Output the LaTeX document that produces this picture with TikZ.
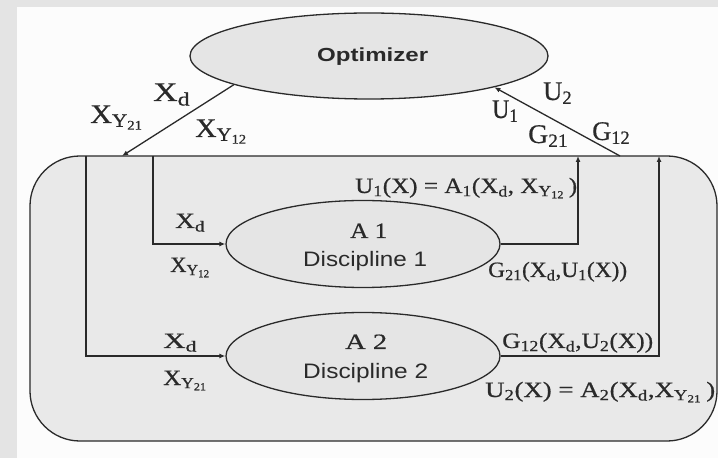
\documentclass[tikz,border=0pt]{standalone}
\usepackage{graphicx}
\usepackage{fontspec}
\setmainfont{Liberation Serif}[FakeBold=0.6]
\setsansfont{Liberation Sans}
\usetikzlibrary{shapes.geometric,arrows.meta}
\definecolor{pagegray}{HTML}{E4E4E4}
\definecolor{paper}{HTML}{FCFCFC}
\definecolor{boxfill}{HTML}{E9E9E9}
\definecolor{ellfill}{HTML}{E5E5E5}
\definecolor{ink}{HTML}{2A2A2A}
\newcommand{\sbx}[1]{\textsubscript{#1}}
\newcommand{\fitw}[2]{\resizebox{#1}{\height}{#2}}
\tikzset{
  lbl/.style={anchor=base west, inner sep=0pt, text=ink, font=\fontsize{22}{25}\selectfont},
  toplbl/.style={lbl, font=\fontsize{27}{30}\selectfont},
  sanslbl/.style={anchor=base west, inner sep=0pt, text=ink, font=\sffamily\fontsize{21}{24}\selectfont},
  conn/.style={draw=ink, line width=1.3bp},
  arr/.style={conn, -{Latex[length=6bp,width=5bp]}},
  disc/.style={ellipse, draw=ink, line width=1.3bp, fill=ellfill, minimum width=274bp, minimum height=87bp, inner sep=0pt},
}
\begin{document}
\begin{tikzpicture}[x=1bp,y=-1bp]
\fill[pagegray] (0,0) rectangle (718,458);
\fill[paper] (17,7) rectangle (718,458);
\useasboundingbox (0,0) rectangle (718,458);
% container
\node[rectangle, rounded corners=50bp, draw=ink, line width=1.3bp, fill=boxfill,
      minimum width=687bp, minimum height=285bp, inner sep=0pt] (box) at (373.5,298.5) {};
% optimizer
\node[ellipse, draw=ink, line width=1.3bp, fill=ellfill, minimum width=358bp, minimum height=86bp, inner sep=0pt] (opt) at (369,56) {};
\node[anchor=base west, inner sep=0pt, text=ink, font=\sffamily\bfseries\fontsize{19}{22}\selectfont] (optt) at (317,62) {\fitw{111bp}{Optimizer}};
% disciplines
\node[disc] (d1) at (363,244) {};
\node[disc] (d2) at (363,356) {};
\node[lbl] (a1) at (350,238) {\fitw{37bp}{A 1}};
\node[sanslbl] (dt1) at (303,267) {\fitw{124bp}{Discipline 1}};
\node[lbl] (a2) at (345,349) {\fitw{42bp}{A 2}};
\node[sanslbl] (dt2) at (303,378) {\fitw{125bp}{Discipline 2}};
% points on the container top
\coordinate (ta) at (122,156);
\coordinate (tb) at (620,156);
\coordinate (t1) at (86,156);
\coordinate (t2) at (153,156);
\coordinate (t3) at (578,156);
\coordinate (t4) at (659,156);
% connectors
\draw[arr] (opt.192.8) -- (ta);
\draw[arr] (tb) -- (opt.346.6);
\draw[arr] (t2) |- (d1.west);
\draw[arr] (t1) |- (d2.west);
\draw[arr] (d1.east) -| (t3);
\draw[arr] (d2.east) -| (t4);
% top labels
\node[toplbl] (l1) at (153,101) {\fitw{37bp}{X\sbx{d}}};
\node[toplbl] (l2) at (90,123) {\fitw{53bp}{X\sbx{Y\sbx{21}}}};
\node[toplbl] (l3) at (195,137) {\fitw{52bp}{X\sbx{Y\sbx{12}}}};
\node[toplbl] (l4) at (543,100) {\fitw{29bp}{U\sbx{2}}};
\node[toplbl] (l5) at (492,118) {\fitw{26bp}{U\sbx{1}}};
\node[toplbl] (l6) at (528,143) {\fitw{40bp}{G\sbx{21}}};
\node[toplbl] (l7) at (592,140) {\fitw{38bp}{G\sbx{12}}};
% inner labels
\node[lbl] (m1) at (355,193) {\fitw{222bp}{U\sbx{1}(X) = A\sbx{1}(X\sbx{d}, X\sbx{Y\sbx{12}}\,)}};
\node[lbl] (m2) at (175,228) {\fitw{30bp}{X\sbx{d}}};
\node[lbl] (m3) at (170,272) {\fitw{40bp}{X\sbx{Y\sbx{12}}}};
\node[lbl] (m4) at (163,348) {\fitw{34bp}{X\sbx{d}}};
\node[lbl] (m5) at (163,385) {\fitw{44bp}{X\sbx{Y\sbx{21}}}};
\node[lbl] (m6) at (488,277) {\fitw{139bp}{G\sbx{21}(X\sbx{d},U\sbx{1}(X))}};
\node[lbl] (m7) at (502,348) {\fitw{151bp}{G\sbx{12}(X\sbx{d},U\sbx{2}(X))}};
\node[lbl] (m8) at (485,397) {\fitw{230bp}{U\sbx{2}(X) = A\sbx{2}(X\sbx{d},X\sbx{Y\sbx{21}}\,)}};
\end{tikzpicture}
\end{document}
